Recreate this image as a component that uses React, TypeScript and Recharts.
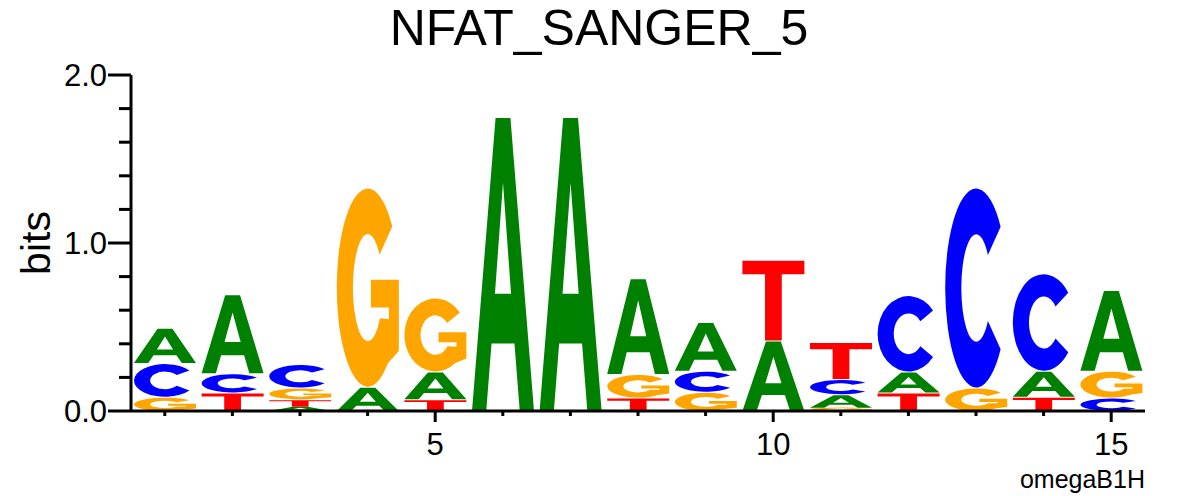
import React from 'react';
import { BarChart, Bar, XAxis, YAxis } from 'recharts';

// information content (bits) per letter, positions 1..15
const positions = [1, 2, 3, 4, 5, 6, 7, 8, 9, 10, 11, 12, 13, 14, 15];
const bitsA = [0.21, 0.47, 0.025, 0.145, 0.165, 1.75, 1.75, 0.57, 0.29, 0.42, 0.08, 0.125, 0, 0.155, 0.48];
const bitsC = [0.2, 0.115, 0.14, 0, 0, 0, 0, 0, 0.125, 0, 0.09, 0.455, 1.19, 0.58, 0.08];
const bitsG = [0.085, 0, 0.07, 1.185, 0.44, 0, 0, 0.14, 0.115, 0, 0.02, 0, 0.14, 0, 0.16];
const bitsT = [0, 0.11, 0.045, 0, 0.07, 0, 0, 0.08, 0, 0.48, 0.22, 0.11, 0, 0.085, 0];
const yTicks = [0, 0.2, 0.4, 0.6, 0.8, 1.0, 1.2, 1.4, 1.6, 1.8, 2.0];
const yLabels = ['0.0', '1.0', '2.0'];
const xLabels = [5, 10, 15];

const COLORS: Record<string, string> = { A: '#008000', C: '#0000ff', G: '#ffa500', T: '#ff0000' };
const FONT = '"Liberation Sans", Arial, Helvetica, sans-serif';

// glyph outlines in a unit box (0..1), stretched to the bar rect
const pt = (rx: number, ry: number, deg: number) => {
  const r = (deg * Math.PI) / 180;
  return `${0.5 + rx * Math.cos(r)},${0.5 + ry * Math.sin(r)}`;
};
const GLYPHS: Record<string, string> = {
  A: 'M0,1 L0.38,0 L0.62,0 L1,1 L0.77,1 L0.685,0.77 L0.315,0.77 L0.23,1 Z M0.37,0.6 L0.63,0.6 L0.5,0.22 Z',
  T: 'M0,0 L1,0 L1,0.17 L0.635,0.17 L0.635,1 L0.365,1 L0.365,0.17 L0,0.17 Z',
  C: `M${pt(0.5, 0.5, -38)} A0.5,0.5 0 1 0 ${pt(0.5, 0.5, 38)} L${pt(0.24, 0.27, 38)} A0.24,0.27 0 1 1 ${pt(0.24, 0.27, -38)} Z`,
  G: `M${pt(0.5, 0.5, -38)} A0.5,0.5 0 1 0 ${pt(0.5, 0.5, 50)} L1,0.82 L1,0.46 L0.55,0.46 L0.55,0.6 L0.84,0.6 L0.84,0.66 L${pt(0.24, 0.27, 35)} A0.24,0.27 0 1 1 ${pt(0.24, 0.27, -38)} Z`,
};

const letters = ['A', 'C', 'G', 'T'];
const series: Record<string, number[]> = { A: bitsA, C: bitsC, G: bitsG, T: bitsT };

// stack letters smallest at bottom
const data = positions.map((pos, i) => {
  const row: any = { pos };
  const sorted = letters
    .map((l) => ({ l, v: series[l][i] }))
    .filter((d) => d.v > 0)
    .sort((a, b) => a.v - b.v);
  sorted.forEach((d, r) => {
    row[`v${r}`] = d.v;
    row[`l${r}`] = d.l;
  });
  return row;
});

const Letter = (props: any) => {
  const { x, y, width, letter } = props;
  let { height } = props;
  if (!letter || !height || height <= 0) return <g />;
  // small white gap above each glyph, like the original logo
  const gap = height > 6 ? 1 : 0;
  return (
    <path
      d={GLYPHS[letter]}
      fill={COLORS[letter]}
      fillRule="evenodd"
      transform={`translate(${x},${y + gap}) scale(${width},${height - gap})`}
    />
  );
};

const YTick = (props: any) => {
  const { x, y, payload } = props;
  const v = payload.value;
  const major = Math.abs(v - Math.round(v)) < 1e-6;
  const len = major ? 23 : 12;
  return (
    <g>
      <line x1={x - len} y1={y} x2={x} y2={y} stroke="#000" strokeWidth={3} />
      {major && (
        <text x={x - len - 1} y={y + 11} textAnchor="end" fontSize={31} fontFamily={FONT} fill="#000">
          {yLabels[Math.round(v)]}
        </text>
      )}
    </g>
  );
};

const XTick = (props: any) => {
  const { x, y, payload } = props;
  const major = xLabels.includes(payload.value);
  return (
    <g>
      <line x1={x} y1={y} x2={x} y2={y + (major ? 11 : 5)} stroke="#000" strokeWidth={3} />
      {major && (
        <text x={x} y={455} textAnchor="middle" fontSize={31} fontFamily={FONT} fill="#000">
          {payload.value}
        </text>
      )}
    </g>
  );
};

export default function App() {
  return (
    <div style={{ position: 'absolute', left: 0, top: 0, width: 1196, height: 496, background: '#fff' }}>
      <BarChart
        width={1196}
        height={496}
        data={data}
        margin={{ top: 75, right: 51, bottom: 45, left: 0 }}
        barSize={62}
      >
        <XAxis
          dataKey="pos"
          height={40}
          tickSize={0}
          tickMargin={0}
          tick={<XTick />}
          interval={0}
          axisLine={{ stroke: '#000', strokeWidth: 3 }}
        />
        <YAxis
          type="number"
          domain={[0, 2]}
          ticks={yTicks}
          width={131}
          tickSize={0}
          tickMargin={0}
          tick={<YTick />}
          interval={0}
          axisLine={{ stroke: '#000', strokeWidth: 3 }}
        />
        {[0, 1, 2, 3].map((r) => (
          <Bar
            key={r}
            dataKey={`v${r}`}
            stackId="logo"
            isAnimationActive={false}
            shape={(p: any) => <Letter {...p} letter={p.payload[`l${r}`]} />}
          />
        ))}
      </BarChart>
      <svg width={1196} height={496} style={{ position: 'absolute', left: 0, top: 0, pointerEvents: 'none' }}>
        <text x={599} y={45} textAnchor="middle" fontSize={50} fontFamily={FONT} fill="#000">
          NFAT_SANGER_5
        </text>
        <text x={50} y={243} textAnchor="middle" fontSize={41} fontFamily={FONT} fill="#000" transform="rotate(-90 50 243)">
          bits
        </text>
        <text x={1145} y={488} textAnchor="end" fontSize={25} fontFamily={FONT} fill="#000">
          omegaB1H
        </text>
      </svg>
    </div>
  );
}
